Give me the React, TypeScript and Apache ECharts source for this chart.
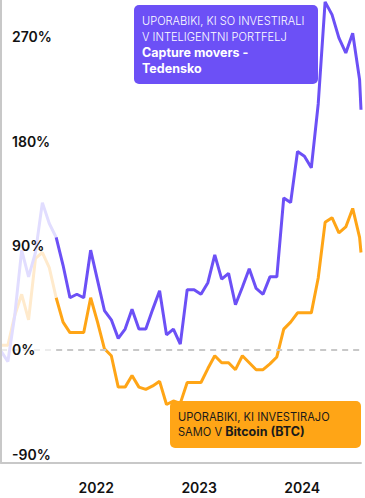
import { useEffect, useRef } from "react";
import * as echarts from "echarts";

// ---- data ----
const START_DATE = "2021-01-28T00:00:00";
const STEP_DAYS = 24.46; // sampling interval of the series
const LAST_STEP_DAYS = 5; // last (partial) period
const FADE_UNTIL = 8; // points before this index are drawn faded

const yearLabels = ["2022", "2023", "2024"];
const yTickValues = [-90, 0, 90, 180, 270];

// Capture movers - Tedensko (% return)
const portfolioValues = [
  -1, -10, 30, 86, 63, 84, 127, 109, 97, 73, 45, 48, 45, 86, 60, 34, 26, 10, 18, 35,
  18, 18, 35, 51, 13, 18, 5, 52, 52, 48, 58, 82, 61, 66, 39, 54, 70, 53, 48, 63,
  63, 131, 127, 171, 167, 157, 212, 300, 289, 269, 256, 273, 233, 207,
];

// Bitcoin (BTC) (% return)
const bitcoinValues = [
  4, 4, 30, 48, 26, 79, 84, 71, 45, 24, 15, 15, 15, 45, 24, 1, -5, -32, -32, -22,
  -32, -34, -31, -27, -47, -44, -46, -28, -28, -28, -16, -5, -11, -11, -17, -5, -11, -17, -17, -12,
  -6, 18, 24, 32, 32, 32, 62, 110, 114, 101, 106, 122, 97, 84,
];

const PURPLE = "#6c50f6";
const PURPLE_LIGHT = "#e1ddff";
const ORANGE = "#ffa516";
const ORANGE_LIGHT = "#ffeacc";
const FONT = "Inter";

const DAY = 86400000;
const t0 = new Date(START_DATE).getTime();
const n = portfolioValues.length;
const dates = portfolioValues.map((_, i) =>
  i < n - 1 ? t0 + i * STEP_DAYS * DAY : t0 + ((n - 2) * STEP_DAYS + LAST_STEP_DAYS) * DAY
);
const yearTicks = yearLabels.map((y) => new Date(Number(y), 0, 1).getTime());

const pairs = (vals: number[]) => vals.map((v, i) => [dates[i], v]);

function lineSeries(data: any[], color: string, z: number, extra: any = {}) {
  return {
    type: "line",
    data,
    showSymbol: false,
    symbol: "none",
    z,
    silent: true,
    lineStyle: { color, width: 3 },
    emphasis: { disabled: true },
    ...extra,
  };
}

export default function App() {
  const ref = useRef<HTMLDivElement>(null);
  useEffect(() => {
    const chart = echarts.init(ref.current!, undefined, { renderer: "svg" });
    const pp = pairs(portfolioValues);
    const bp = pairs(bitcoinValues);
    const last = dates[n - 1];
    chart.setOption({
      animation: false,
      backgroundColor: "#ffffff",
      grid: { left: 1, right: 4, top: 0, bottom: 35, containLabel: false, outerBoundsMode: "none" },
      xAxis: {
        type: "value",
        min: dates[0],
        max: last,
        axisLine: { show: true, onZero: false, lineStyle: { color: "#c8c8c8", width: 2 } },
        axisTick: { show: false },
        splitLine: { show: false },
        axisLabel: {
          customValues: yearTicks,
          formatter: (v: number) => String(new Date(v).getFullYear()),
          color: "#111111",
          fontFamily: FONT,
          fontWeight: 600,
          fontSize: 14,
          margin: 17,
        },
      },
      yAxis: {
        type: "value",
        min: -97.4,
        max: 301.6,
        z: 10,
        axisLine: { show: true, lineStyle: { color: "#c8c8c8", width: 2 } },
        axisTick: { show: false },
        splitLine: { show: false },
        axisLabel: {
          customValues: yTickValues,
          inside: true,
          margin: 11,
          formatter: "{value}%",
          color: "#111111",
          fontFamily: FONT,
          fontWeight: 600,
          fontSize: 14,
        },
      },
      series: [
        lineSeries(bp.slice(0, FADE_UNTIL + 1), ORANGE_LIGHT, 2, {
          markLine: {
            silent: true,
            symbol: ["none", "none"],
            label: { show: false },
            lineStyle: { type: [6, 5], width: 2, color: "#c8c8c8" },
            data: [
              [
                { coord: [dates[0], 0], lineStyle: { color: "#ececec", type: [6, 5], width: 2 } },
                { coord: [dates[FADE_UNTIL], 0] },
              ],
              [
                { coord: [dates[FADE_UNTIL], 0], lineStyle: { color: "#c8c8c8", type: [6, 5], width: 2 } },
                { coord: [last, 0] },
              ],
            ],
          },
        }),
        lineSeries(pp.slice(0, FADE_UNTIL + 1), PURPLE_LIGHT, 3),
        lineSeries(bp.slice(FADE_UNTIL), ORANGE, 4),
        lineSeries(pp.slice(FADE_UNTIL), PURPLE, 5),
      ],
      graphic: [
        {
          type: "rect",
          z: 100,
          shape: { x: 134, y: 5, width: 184, height: 79, r: 5 },
          style: { fill: PURPLE },
        },
        {
          type: "text",
          z: 101,
          x: 142,
          y: 13,
          style: {
            text: "{n|UPORABIKI, KI SO INVESTIRALI}\n{n|V INTELIGENTNI PORTFELJ}\n{b|Capture movers -}\n{b|Tedensko}",
            verticalAlign: "top",
            align: "left",
            rich: {
              n: { fontFamily: FONT, fontSize: 11.1, fontWeight: 300, fill: "#ffffff", lineHeight: 15.8 },
              b: { fontFamily: FONT, fontSize: 12.5, fontWeight: 700, fill: "#ffffff", lineHeight: 15.8 },
            },
          },
        },
        {
          type: "rect",
          z: 100,
          shape: { x: 170, y: 401, width: 191, height: 47, r: 5 },
          style: { fill: ORANGE },
        },
        {
          type: "text",
          z: 101,
          x: 178,
          y: 409,
          style: {
            text: "{n|UPORABIKI, KI INVESTIRAJO}\n{n|SAMO V }{b|Bitcoin (BTC)}",
            verticalAlign: "top",
            align: "left",
            rich: {
              n: { fontFamily: FONT, fontSize: 11.1, fontWeight: 400, fill: "#1a1a1a", lineHeight: 15 },
              b: { fontFamily: FONT, fontSize: 12.5, fontWeight: 700, fill: "#1a1a1a", lineHeight: 15 },
            },
          },
        },
      ],
    });
    return () => chart.dispose();
  }, []);
  return (
    <div
      ref={ref}
      style={{ position: "fixed", left: 0, top: 0, width: 365, height: 498, background: "#fff" }}
    />
  );
}
